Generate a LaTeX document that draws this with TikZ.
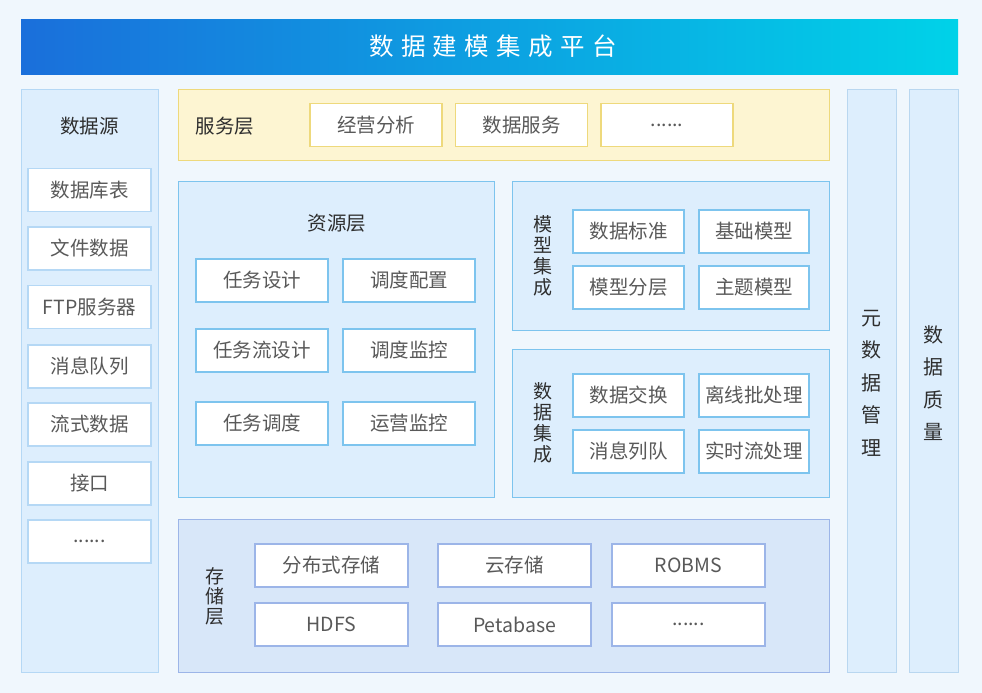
\documentclass[tikz,border=0pt]{standalone}
\usepackage{fontspec}
\setmainfont{Noto Sans CJK SC}
\newfontfamily\titlefont[LetterSpace=30]{Noto Sans CJK SC}
\usepackage{xcolor}
\usetikzlibrary{positioning}

\definecolor{pagebg}{HTML}{F0F7FD}
\definecolor{panelblue}{HTML}{DDEEFD}
\definecolor{lineblue}{HTML}{B5D8F5}
\definecolor{deepline}{HTML}{7DC4EE}
\definecolor{svcfill}{HTML}{FDF5D2}
\definecolor{svcline}{HTML}{EED97C}
\definecolor{storefill}{HTML}{D8E7F9}
\definecolor{storeline}{HTML}{9CB5E8}
\definecolor{sideline}{HTML}{B9D7F0}
\definecolor{txtdark}{HTML}{2E2E2E}
\definecolor{txtgray}{HTML}{595959}
\newcommand{\moredots}{......}

\begin{document}
\begin{tikzpicture}[x=1pt, y=-1pt,
    panel/.style={draw, line width=1.2pt, inner sep=0pt, anchor=north west},
    item/.style={draw, fill=white, line width=1.2pt, inner sep=0pt, minimum height=43,
        font=\fontsize{19.5}{22}\selectfont, text=txtgray},
    layername/.style={font=\fontsize{19.5}{22}\selectfont, text=txtdark},
    vlabel/.style={align=center, text=txtdark, inner sep=0pt}]
% Background
\fill[pagebg] (0,0) rectangle (982,693);
\useasboundingbox (0,0) rectangle (982,693);

% Title bar
\node[anchor=north west, minimum width=937, minimum height=55, inner sep=0pt,
    left color={rgb,255:red,26;green,111;blue,219}, right color={rgb,255:red,0;green,210;blue,232}]
    (title) at (21,19) {};
\node[text=white, font=\titlefont\fontsize{24.5}{28}\selectfont] (titletext) at (493,46) {数据建模集成平台};

% Data sources column
\node[panel, fill=panelblue, draw=lineblue, minimum width=137, minimum height=583] (src) at (21,89) {};
\node[layername] (srcname) at (89.5,126) {数据源};
\foreach \y/\name [count=\i] in {190/数据库表, 248.5/文件数据, 307/FTP服务器, 366.5/消息队列,
    424.5/流式数据, 483.5/接口, 541.5/\moredots} {
    \node[item, draw=lineblue, minimum width=123] (src\i) at (89.5,\y) {\name};
}

% Service layer
\node[panel, fill=svcfill, draw=svcline, minimum width=651, minimum height=71] (svc) at (178,89) {};
\node[layername] (svcname) at (225,126) {服务层};
\foreach \x/\name [count=\i] in {376/经营分析, 521.5/数据服务, 667/\moredots} {
    \node[item, draw=svcline, minimum width=132] (svc\i) at (\x,125) {\name};
}

% Resource layer
\node[panel, fill=panelblue, draw=deepline, minimum width=316, minimum height=316] (res) at (178,181) {};
\node[layername] (resname) at (337,223) {资源层};
\foreach \y/\lname/\rname [count=\i] in {280.5/任务设计/调度配置, 350.5/任务流设计/调度监控, 423.5/任务调度/运营监控} {
    \node[item, draw=deepline, minimum width=132] (resl\i) at (262,\y) {\lname};
    \node[item, draw=deepline, minimum width=132] (resr\i) at (409,\y) {\rname};
}

% Model integration
\node[panel, fill=panelblue, draw=deepline, minimum width=317, minimum height=149] (mdl) at (512,181) {};
\node[vlabel, font=\fontsize{19}{21}\selectfont] (mdlname) at (543,256) {模\\型\\集\\成};
\foreach \y/\lname/\rname [count=\i] in {231.5/数据标准/基础模型, 287.5/模型分层/主题模型} {
    \node[item, draw=deepline, minimum width=111] (mdll\i) at (628.5,\y) {\lname};
    \node[item, draw=deepline, minimum width=110] (mdlr\i) at (754,\y) {\rname};
}

% Data integration
\node[panel, fill=panelblue, draw=deepline, minimum width=317, minimum height=148] (itg) at (512,349) {};
\node[vlabel, font=\fontsize{19}{21}\selectfont] (itgname) at (543,423) {数\\据\\集\\成};
\foreach \y/\lname/\rname [count=\i] in {395.5/数据交换/离线批处理, 451.5/消息列队/实时流处理} {
    \node[item, draw=deepline, minimum width=111] (itgl\i) at (628.5,\y) {\lname};
    \node[item, draw=deepline, minimum width=110] (itgr\i) at (754,\y) {\rname};
}

% Storage layer
\node[panel, fill=storefill, draw=storeline, minimum width=651, minimum height=153] (sto) at (178,519) {};
\node[vlabel, font=\fontsize{19}{20}\selectfont] (stoname) at (215,596) {存\\储\\层};
\foreach \x/\tname/\bname [count=\i] in {331.5/分布式存储/HDFS, 514.5/云存储/Petabase, 688.5/ROBMS/\moredots} {
    \node[item, draw=storeline, minimum width=153] (stot\i) at (\x,565.5) {\tname};
    \node[item, draw=storeline, minimum width=153] (stob\i) at (\x,624.5) {\bname};
}

% Side columns
\node[panel, fill=panelblue, draw=sideline, minimum width=49, minimum height=583] (meta) at (847,89) {};
\node[vlabel, font=\fontsize{20}{32.5}\selectfont] (metaname) at (871.5,383) {元\\数\\据\\管\\理};
\node[panel, fill=panelblue, draw=sideline, minimum width=49, minimum height=583] (qual) at (909,89) {};
\node[vlabel, font=\fontsize{20}{32.5}\selectfont] (qualname) at (933.5,383) {数\\据\\质\\量};
\end{tikzpicture}
\end{document}
